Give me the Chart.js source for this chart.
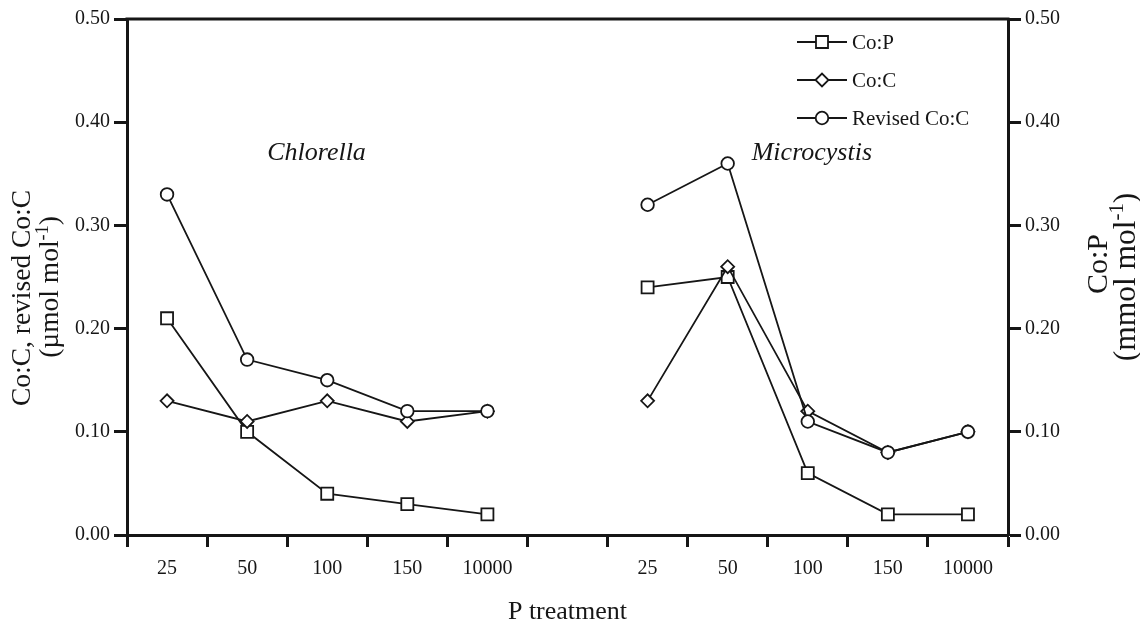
<!DOCTYPE html>
<html>
<head>
<meta charset="utf-8">
<script src="https://cdn.jsdelivr.net/npm/chart.js@4.4.1/dist/chart.umd.min.js"></script>
<style>
    html, body { margin: 0; padding: 0; background: #fff; }
    #wrap { width: 1140px; height: 621px; position: relative; }
</style>
</head>
<body>
<div id="wrap"><canvas id="chart"></canvas></div>
<script>
// P treatment levels, Chlorella | gap | Microcystis
const categories = ['25', '50', '100', '150', '10000', '', '25', '50', '100', '150', '10000'];
const coP = [0.21, 0.10, 0.04, 0.03, 0.02, null, 0.24, 0.25, 0.06, 0.02, 0.02];
const coC = [0.13, 0.11, 0.13, 0.11, 0.12, null, 0.13, 0.26, 0.12, 0.08, 0.10];
const revisedCoC = [0.33, 0.17, 0.15, 0.12, 0.12, null, 0.32, 0.36, 0.11, 0.08, 0.10];
const seriesNames = ['Co:P', 'Co:C', 'Revised Co:C'];
const groupNames = ['Chlorella', 'Microcystis'];

const INK = '#161616';
const SERIF = "'Liberation Serif', 'Times New Roman', serif";

function lineSet(label, data, style, radius, axis, order) {
    return {
        label: label,
        data: data,
        yAxisID: axis,
        order: order,
        borderColor: INK,
        borderWidth: 1.8,
        pointStyle: style,
        pointRadius: radius,
        pointHoverRadius: radius,
        pointBackgroundColor: '#fff',
        pointBorderColor: INK,
        pointBorderWidth: 1.8,
        spanGaps: false,
        tension: 0
    };
}

// text with a superscript part, drawn rotated
function drawRich(ctx, parts, cx, cy, size, angle) {
    ctx.save();
    ctx.translate(cx, cy);
    ctx.rotate(angle);
    ctx.fillStyle = INK;
    ctx.textBaseline = 'alphabetic';
    ctx.textAlign = 'left';
    let total = 0;
    parts.forEach(p => {
        ctx.font = (p.sup ? size * 0.66 : size) + 'px ' + SERIF;
        p.w = ctx.measureText(p.t).width;
        total += p.w;
    });
    let x = -total / 2;
    parts.forEach(p => {
        ctx.font = (p.sup ? size * 0.66 : size) + 'px ' + SERIF;
        ctx.fillText(p.t, x, p.sup ? -size * 0.38 : 0);
        x += p.w;
    });
    ctx.restore();
}

const decorPlugin = {
    id: 'decor',
    afterDraw(chart) {
        const ctx = chart.ctx;
        const a = chart.chartArea;
        const xs = chart.scales.x;
        const ys = chart.scales.y;

        // top frame line
        ctx.save();
        ctx.strokeStyle = INK;
        ctx.lineWidth = 3;
        ctx.beginPath();
        ctx.moveTo(a.left - 1.5, a.top);
        ctx.lineTo(a.right + 1.5, a.top);
        ctx.stroke();
        ctx.restore();

        // group names
        ctx.save();
        ctx.fillStyle = INK;
        ctx.font = 'italic 26px ' + SERIF;
        ctx.textBaseline = 'alphabetic';
        ctx.textAlign = 'left';
        ctx.fillText(groupNames[0], xs.getPixelForValue(1.25), ys.getPixelForValue(0.3634));
        ctx.fillText(groupNames[1], xs.getPixelForValue(7.3), ys.getPixelForValue(0.3634));
        ctx.restore();

        // axis titles
        const up = -Math.PI / 2;
        drawRich(ctx, [{t: 'Co:C, revised Co:C'}], 30, 298, 27.5, up);
        drawRich(ctx, [{t: '(\u00b5mol mol'}, {t: '-1', sup: true}, {t: ')'}], 58, 287, 27.5, up);
        drawRich(ctx, [{t: 'Co:P'}], 1107, 264, 30, up);
        drawRich(ctx, [{t: '(mmol mol'}, {t: '-1', sup: true}, {t: ')'}], 1135, 277, 31.5, up);
        drawRich(ctx, [{t: 'P treatment'}], (a.left + a.right) / 2, 619, 26, 0);

        // legend: line with marker in the middle
        const rowsY = [42, 80, 118];
        chart.data.datasets.forEach((ds, i) => {
            const y = rowsY[i];
            ctx.save();
            ctx.strokeStyle = INK;
            ctx.lineWidth = 1.8;
            ctx.beginPath();
            ctx.moveTo(797, y);
            ctx.lineTo(847, y);
            ctx.stroke();
            ctx.fillStyle = '#fff';
            Chart.helpers.drawPoint(ctx, {
                pointStyle: ds.pointStyle,
                radius: ds.pointRadius,
                rotation: 0,
                borderWidth: 1.8
            }, 822, y);
            ctx.fillStyle = INK;
            ctx.font = '21px ' + SERIF;
            ctx.textBaseline = 'middle';
            ctx.textAlign = 'left';
            ctx.fillText(ds.label, 852, y + 1);
            ctx.restore();
        });
    }
};

const tickFont = { family: SERIF, size: 20 };
const axisBorder = { display: true, color: INK, width: 3 };

new Chart(document.getElementById('chart'), {
    type: 'line',
    data: {
        labels: categories,
        datasets: [
            lineSet(seriesNames[0], coP, 'rect', 8.5, 'y2', 3),
            lineSet(seriesNames[1], coC, 'rectRot', 6.5, 'y', 2),
            lineSet(seriesNames[2], revisedCoC, 'circle', 6.3, 'y', 1)
        ]
    },
    options: {
        responsive: true,
        maintainAspectRatio: false,
        animation: false,
        layout: { padding: { top: 19, left: 0, right: 0, bottom: 0 } },
        plugins: {
            legend: { display: false },
            tooltip: { enabled: false }
        },
        scales: {
            x: {
                type: 'category',
                offset: true,
                border: axisBorder,
                grid: {
                    offset: true,
                    drawOnChartArea: false,
                    drawTicks: true,
                    tickLength: 12,
                    tickWidth: 3,
                    tickColor: INK
                },
                ticks: {
                    font: tickFont,
                    color: INK,
                    padding: 10,
                    autoSkip: false,
                    maxRotation: 0
                },
                afterFit: s => { s.height = 86; }
            },
            y: {
                position: 'left',
                min: 0,
                max: 0.5,
                border: axisBorder,
                grid: {
                    drawOnChartArea: false,
                    tickLength: 13,
                    tickWidth: 3,
                    tickColor: INK
                },
                ticks: {
                    stepSize: 0.1,
                    font: tickFont,
                    color: INK,
                    padding: 4,
                    callback: v => v.toFixed(2)
                },
                afterFit: s => { s.width = 127; }
            },
            y2: {
                position: 'right',
                min: 0,
                max: 0.5,
                border: axisBorder,
                grid: {
                    drawOnChartArea: false,
                    tickLength: 13,
                    tickWidth: 3,
                    tickColor: INK
                },
                ticks: {
                    stepSize: 0.1,
                    font: tickFont,
                    color: INK,
                    padding: 4,
                    callback: v => v.toFixed(2)
                },
                afterFit: s => { s.width = 132; }
            }
        }
    },
    plugins: [decorPlugin]
});
</script>
</body>
</html>
